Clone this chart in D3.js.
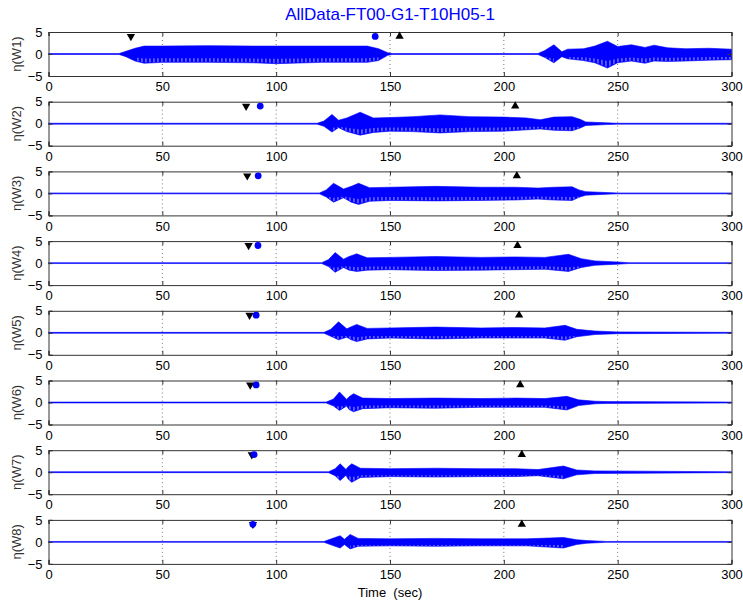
<!DOCTYPE html>
<html>
<head>
<meta charset="utf-8">
<script src="https://cdn.jsdelivr.net/npm/d3@7"></script>
<style>
  body { margin: 0; background: #fff; }
  text { font-family: Arial, "Liberation Sans", sans-serif; }
</style>
</head>
<body>
<svg id="canvas" width="743" height="605"></svg>
<script>
// ---- data ----
const chartTitle = 'AllData-FT00-G1-T10H05-1'
const gauges = ['W1', 'W2', 'W3', 'W4', 'W5', 'W6', 'W7', 'W8']
const xTicks = [0, 50, 100, 150, 200, 250, 300]
const yTicks = [-5, 0, 5]

// envelope of each record: [time, upper, lower]
const w1 = [[0,0.1,-0.1],[31,0.1,-0.1],[34,0.6,-0.6],[38,1.3,-1.6],[42,1.8,-2.1],[50,1.8,-1.9],[70,1.9,-1.9],[90,1.8,-2.0],[100,1.8,-2.2],[120,1.8,-1.9],[140,1.8,-1.9],[145,1.2,-1.5],[149,0.3,-0.3],[151,0.1,-0.1],[215,0.1,-0.1],[218,0.8,-0.8],[222,2.1,-2.0],[225.5,0.5,-0.6],[228,1.1,-1.1],[235,1.2,-1.5],[240,1.8,-2.0],[245.5,2.9,-3.2],[250,1.7,-2.0],[256,2.1,-1.6],[262,1.5,-2.1],[266,2.0,-1.6],[272,1.4,-1.7],[280,1.2,-1.6],[290,1.3,-1.4],[300,1.1,-1.3]]
const w2 = [[0,0.1,-0.1],[118,0.1,-0.1],[121,0.6,-0.6],[124.5,2.1,-1.9],[127.4,0.8,-0.9],[131,1.3,-1.8],[136.9,2.6,-2.6],[142.7,1.3,-2.0],[150,1.4,-1.7],[160,1.6,-1.8],[172,2.0,-2.1],[185,1.6,-1.8],[200,1.5,-1.7],[210,1.3,-1.4],[216,0.9,-1.2],[222,1.5,-1.5],[230,1.6,-1.6],[233.5,1.0,-1.0],[236,0.4,-0.4],[245,0.2,-0.2],[250,0.1,-0.1],[300,0.1,-0.1]]
const w3 = [[0,0.1,-0.1],[119,0.1,-0.1],[122,0.8,-0.8],[125.2,2.3,-2.0],[129.6,1.0,-1.0],[133,1.6,-2.0],[136.2,2.3,-2.5],[141,1.3,-1.8],[150,1.4,-1.6],[170,1.6,-1.7],[190,1.4,-1.6],[205,1.4,-1.5],[215,1.2,-1.3],[222,1.4,-1.5],[230,1.5,-1.6],[233,0.8,-0.9],[236,0.4,-0.4],[245,0.2,-0.2],[250,0.1,-0.1],[300,0.1,-0.1]]
const w4 = [[0,0.1,-0.1],[120,0.1,-0.1],[123,0.8,-0.8],[125.9,2.4,-2.1],[129.6,0.9,-1.0],[132,1.5,-1.6],[135.4,2.1,-1.9],[140,1.2,-1.6],[150,1.3,-1.5],[170,1.5,-1.7],[190,1.3,-1.6],[205,1.4,-1.5],[218,1.3,-1.4],[228.4,2.0,-1.9],[234,1.0,-1.0],[240,0.5,-0.5],[250,0.25,-0.25],[255,0.1,-0.1],[300,0.1,-0.1]]
const w5 = [[0,0.1,-0.1],[121,0.1,-0.1],[124,0.8,-0.8],[127.4,2.5,-1.6],[131,0.9,-1.0],[133,1.4,-1.6],[135.4,1.9,-2.0],[140,1.0,-1.4],[150,1.1,-1.2],[170,1.3,-1.4],[190,1.1,-1.2],[205,1.2,-1.2],[218,1.1,-1.2],[226.9,1.7,-1.7],[232,0.8,-0.9],[240,0.4,-0.4],[250,0.2,-0.2],[300,0.1,-0.1]]
const w6 = [[0,0.1,-0.1],[122,0.1,-0.1],[125.2,0.8,-0.8],[127.8,2.4,-1.8],[131,0.7,-0.8],[132,1.3,-1.6],[134,2.0,-2.1],[138,1.0,-1.4],[150,0.9,-1.2],[170,1.0,-1.3],[190,0.9,-1.1],[205,1.0,-1.1],[218,0.9,-1.1],[227.7,1.4,-1.7],[232.8,0.6,-0.7],[240,0.3,-0.3],[245,0.2,-0.2],[300,0.1,-0.1]]
const w7 = [[0,0.1,-0.1],[123,0.1,-0.1],[125.9,0.8,-0.8],[128.1,1.9,-1.9],[130.7,0.6,-0.7],[131.5,1.2,-1.5],[133.2,1.9,-2.3],[137,0.9,-1.2],[150,0.8,-1.0],[170,0.9,-1.1],[190,0.8,-1.0],[205,0.8,-1.0],[215,0.6,-0.8],[226.2,1.4,-1.5],[232,0.5,-0.6],[240,0.3,-0.3],[300,0.1,-0.1]]
const w8 = [[0,0.1,-0.1],[121,0.1,-0.1],[123.7,0.6,-0.6],[128.1,1.4,-1.4],[130,0.6,-0.6],[132.5,1.7,-1.6],[136,0.8,-1.0],[150,0.7,-0.9],[170,0.8,-1.0],[190,0.7,-0.9],[210,0.7,-0.9],[226.2,1.0,-1.4],[232,0.5,-0.6],[236.5,0.3,-0.3],[245,0.1,-0.1],[300,0.1,-0.1]]
const envelopes = [w1, w2, w3, w4, w5, w6, w7, w8]

// marker times per gauge: down triangle, circle, up triangle
const downMarks = [36.2, 86.8, 87.3, 87.9, 88.3, 88.6, 89.3, 89.8]
const circleMarks = [143.5, 93.0, 92.1, 92.0, 91.2, 91.2, 90.3, 89.8]
const upMarks = [154.2, 205.0, 205.7, 206.0, 206.7, 207.2, 207.9, 207.9]
const markLevel = 4

// ---- layout ----
let canvas = d3.select('#canvas')
let left = 48.5, right = 731.5
let top0 = 32, panelH = 44, step = 69.7

let x = d3.scaleLinear().domain([0, 300]).range([left, right])

// light vertical streaks seen inside the dense trace
let defs = canvas.append('defs')
let pat = defs.append('pattern')
    .attr('id', 'streaks')
    .attr('patternUnits', 'userSpaceOnUse')
    .attr('width', 4).attr('height', 10)
pat.append('rect').attr('width', 4).attr('height', 10).attr('fill', '#0000ff')
pat.append('rect').attr('x', 1.5).attr('width', 0.9).attr('height', 10).attr('fill', '#b8b8ff')

canvas.append('text')
    .attr('x', (left + right) / 2)
    .attr('y', 20)
    .attr('text-anchor', 'middle')
    .attr('fill', '#0000ff')
    .style('font-size', '17px')
    .text(chartTitle)

gauges.forEach((name, i) => {
    let top = top0 + i * step
    let y = d3.scaleLinear().domain([-5, 5]).range([top + panelH, top])
    let g = canvas.append('g')

    // grid
    g.selectAll('.grid')
        .data(xTicks.slice(1, -1))
        .enter()
        .append('line')
        .attr('x1', d => x(d)).attr('x2', d => x(d))
        .attr('y1', top).attr('y2', top + panelH)
        .attr('stroke', '#555')
        .attr('stroke-width', 0.8)
        .attr('stroke-dasharray', '1,3')

    // signal envelope
    let area = d3.area()
        .x(d => x(d[0]))
        .y0(d => y(d[2]))
        .y1(d => y(d[1]))
    g.append('path')
        .datum(envelopes[i])
        .attr('d', area)
        .attr('fill', '#0000ff')
        .attr('stroke', '#0000ff')
        .attr('stroke-width', 0.6)

    // lower part of the trace shows light streaks
    let lowerArea = d3.area()
        .x(d => x(d[0]))
        .y0(d => y(d[2] * 0.92))
        .y1(d => y(Math.min(-0.7, d[2] * 0.5)))
        .defined(d => d[2] < -0.75)
    g.append('path')
        .datum(envelopes[i])
        .attr('d', lowerArea)
        .attr('fill', 'url(#streaks)')

    // axes
    let xAxis = d3.axisBottom(x).tickValues(xTicks).tickSize(-4).tickPadding(6)
    let xTop = d3.axisTop(x).tickValues(xTicks).tickSize(-4).tickFormat('')
    let yAxis = d3.axisLeft(y).tickValues(yTicks).tickSize(-4).tickPadding(6)
    let yRight = d3.axisRight(y).tickValues(yTicks).tickSize(-4).tickFormat('')

    g.append('g').attr('transform', 'translate(0,' + (top + panelH) + ')').call(xAxis)
    g.append('g').attr('transform', 'translate(0,' + top + ')').call(xTop)
    g.append('g').attr('transform', 'translate(' + left + ',0)').call(yAxis)
    g.append('g').attr('transform', 'translate(' + right + ',0)').call(yRight)

    g.selectAll('.domain').attr('stroke', '#333')
    g.selectAll('.tick line').attr('stroke', '#333')
    g.selectAll('.tick text')
        .attr('fill', '#000')
        .style('font-size', '13px')

    // label
    g.append('text')
        .attr('transform', 'translate(21,' + (top + panelH / 2) + ') rotate(-90)')
        .attr('text-anchor', 'middle')
        .attr('fill', '#333')
        .style('font-size', '13px')
        .text('\u03B7(' + name + ')')

    // markers
    let tri = d3.symbol().type(d3.symbolTriangle).size(30)
    g.append('path')
        .attr('d', tri)
        .attr('transform', 'translate(' + x(downMarks[i]) + ',' + y(markLevel) + ') rotate(180)')
        .attr('fill', '#000')
    g.append('path')
        .attr('d', tri)
        .attr('transform', 'translate(' + x(upMarks[i]) + ',' + y(markLevel) + ')')
        .attr('fill', '#000')
    g.append('circle')
        .attr('cx', x(circleMarks[i]))
        .attr('cy', y(markLevel))
        .attr('r', 3.4)
        .attr('fill', '#0000ff')
})

canvas.append('text')
    .attr('x', (left + right) / 2)
    .attr('y', 597)
    .attr('text-anchor', 'middle')
    .style('font-size', '13px')
    .attr('xml:space', 'preserve')
    .style('white-space', 'pre')
    .text('Time  (sec)')
</script>
</body>
</html>
